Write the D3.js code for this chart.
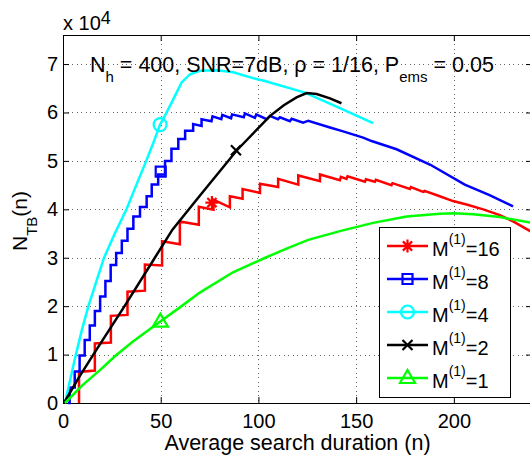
<!DOCTYPE html>
<html>
<head>
<meta charset="utf-8">
<script src="https://cdn.jsdelivr.net/npm/d3@7"></script>
<style>
  body { margin: 0; background: #fff; }
  svg text { font-family: "Liberation Sans", Arial, Helvetica, sans-serif; fill: #000; }
</style>
</head>
<body>
<div id="viz"></div>
<script>
// curve vertices: [search duration, N_TB / 1e4]
const m16 = [[8.2,0],[8.2,0.64],[16.3,0.67],[16.3,1.23],[24.5,1.25],[24.5,1.8],[33,1.82],[33,2.3],
  [41.9,2.32],[41.9,2.86],[50.7,2.84],[50.7,3.34],[59.8,3.28],[59.8,3.75],[69.5,3.68],[69.5,4.05],
  [77,3.99],[77,4.2],[85.4,4.04],[85.4,4.27],[91.9,4.22],[91.9,4.42],[100.8,4.34],[100.8,4.53],
  [110.1,4.46],[110.1,4.63],[120.4,4.51],[120.4,4.7],[131.5,4.58],[131.5,4.72],[141.7,4.6],[142.2,4.67],
  [145.1,4.63],[145.6,4.68],[154.5,4.57],[155,4.62],[159.6,4.57],[160.1,4.61],[168.1,4.5],[168.6,4.54],
  [177.5,4.42],[178,4.46],[184.3,4.36],[185,4.38],[192.8,4.27],[199.6,4.17],[206.5,4.1],[215,4.0],
  [223.5,3.88],[230.3,3.75],[240,3.53]];

const m8 = [[2.5,0],[3.4,0],[3.4,0.32],[6,0.32],[6,0.65],[8.5,0.65],[8.5,0.98],[11.1,0.98],[11.1,1.3],
  [13.7,1.3],[13.7,1.6],[16.3,1.6],[16.3,1.9],[19,1.9],[19,2.2],[21.7,2.2],[21.7,2.52],[24.4,2.52],
  [24.4,2.85],[27.2,2.85],[27.2,3.1],[30.1,3.1],[30.1,3.35],[33,3.35],[33,3.6],[36,3.6],[36,3.85],
  [39.4,3.85],[39.4,4.05],[42.8,4.05],[42.8,4.27],[45.4,4.27],[45.4,4.51],[48.7,4.51],[48.7,4.72],
  [52.2,4.72],[52.2,5.0],[55.5,5.0],[55.5,5.25],[59,5.25],[59,5.45],[62.5,5.45],[62.5,5.62],[66.6,5.62],
  [66.6,5.76],[70.9,5.72],[70.9,5.86],[76,5.82],[76.5,5.92],[81,5.86],[81.5,5.95],[86,5.88],[86.5,5.96],
  [92.5,5.9],[93.1,5.98],[98.2,5.89],[98.9,5.96],[104.2,5.86],[105.9,5.93],[110,5.86],[111,5.9],
  [116.1,5.82],[117,5.87],[122.9,5.79],[125.5,5.83],[136.6,5.69],[142.5,5.62],[153.6,5.48],[157.9,5.41],
  [170.7,5.24],[188,4.92],[205.6,4.51],[218,4.3],[230.3,4.06]];

const m4 = [[1,0],[3.5,0.45],[6.6,1],[9.6,1.5],[13,2],[17,2.5],[21,3],[26.5,3.5],[32.5,4],[37.5,4.5],
  [42.6,5],[46.5,5.4],[49.7,5.75],[53,6],[56.4,6.27],[60.7,6.62],[65,6.79],[70,6.86],[78.6,6.87],
  [87.1,6.83],[99,6.69],[103.3,6.65],[123.8,6.41],[140,6.12],[158.7,5.78]];

const m2 = [[0.5,0],[8,0.52],[16,1.03],[31.5,2],[47,3],[56,3.58],[70,4.28],[89,5.22],[106,5.93],
  [113,6.15],[119.5,6.31],[124.7,6.4],[129.8,6.38],[136.6,6.29],[142.5,6.19]];

const m1 = [[1,0],[10,0.37],[18.9,0.68],[27,0.98],[35.8,1.27],[49.6,1.68],[60,1.98],[70,2.28],[87,2.7],
  [103.5,3.0],[115,3.2],[125.5,3.37],[141.7,3.55],[158.7,3.72],[175.8,3.85],[192.8,3.91],[200,3.92],
  [209.9,3.9],[223.5,3.84],[240,3.72]];

const seriesData = [m16, m8, m4, m2, m1];
const seriesLabels = ["16", "8", "4", "2", "1"];
// the single marker drawn on each curve
const markerPoints = [[76.2,4.14],[50,4.78],[49.7,5.75],[88.5,5.22],[49.8,1.68]];

const xTicks = [0, 50, 100, 150, 200];
const yTicks = [0, 1, 2, 3, 4, 5, 6, 7];

const colors = ["#ff0000", "#0000ff", "#00ffff", "#000000", "#00ff00"];
const markerTypes = ["star", "square", "circle", "cross", "triangle"];

const width = 530, height = 460;
const plotLeft = 63, plotRight = 532, plotTop = 35, plotBottom = 403;

const svg = d3.select("#viz").append("svg")
  .attr("width", width).attr("height", height);

const x = d3.scaleLinear().domain([0, 240]).range([plotLeft, plotRight]);
const y = d3.scaleLinear().domain([0, 7.6]).range([plotBottom, plotTop]);

// dotted grid
svg.append("g").selectAll("line").data(xTicks.slice(1)).join("line")
  .attr("x1", d => Math.round(x(d)) + 0.5).attr("x2", d => Math.round(x(d)) + 0.5)
  .attr("y1", plotTop).attr("y2", plotBottom)
  .attr("stroke", "#666").attr("stroke-dasharray", "1,3.5").attr("shape-rendering", "crispEdges");
svg.append("g").selectAll("line").data(yTicks.slice(1)).join("line")
  .attr("x1", plotLeft).attr("x2", plotRight)
  .attr("y1", d => Math.round(y(d)) + 0.5).attr("y2", d => Math.round(y(d)) + 0.5)
  .attr("stroke", "#666").attr("stroke-dasharray", "1,3.5").attr("shape-rendering", "crispEdges");

// axes (ticks pointing inward)
svg.append("g").attr("transform", `translate(0,${plotBottom})`)
  .call(d3.axisBottom(x).tickValues(xTicks).tickSize(-6).tickPadding(11));
svg.append("g").attr("transform", `translate(${plotLeft},0)`)
  .call(d3.axisLeft(y).tickValues(yTicks).tickSize(-6).tickPadding(5).tickFormat(d3.format("d")));
svg.append("g").attr("transform", `translate(0,${plotTop})`)
  .call(d3.axisTop(x).tickValues(xTicks).tickSize(-6).tickFormat(""));
svg.append("g").attr("transform", `translate(${plotRight},0)`)
  .call(d3.axisRight(y).tickValues(yTicks).tickSize(-6).tickFormat(""));
svg.selectAll(".domain").remove();
svg.selectAll(".tick line").attr("stroke", "#000");
svg.selectAll(".tick text").style("font-size", "20px");

svg.append("rect")
  .attr("x", plotLeft + 0.5).attr("y", plotTop + 0.5)
  .attr("width", plotRight - plotLeft).attr("height", plotBottom - plotTop)
  .attr("fill", "none").attr("stroke", "#000");

// curves
const line = d3.line().x(d => x(d[0])).y(d => y(d[1]));
svg.append("g").selectAll("path").data(seriesData).join("path")
  .attr("d", line)
  .attr("fill", "none")
  .attr("stroke", (d, i) => colors[i])
  .attr("stroke-width", 2.5);

function markerPath(type, cx, cy) {
  const p = d3.path();
  if (type === "star") {
    const r = 6.5, q = 4.6;
    p.moveTo(cx - r, cy); p.lineTo(cx + r, cy);
    p.moveTo(cx, cy - r); p.lineTo(cx, cy + r);
    p.moveTo(cx - q, cy - q); p.lineTo(cx + q, cy + q);
    p.moveTo(cx - q, cy + q); p.lineTo(cx + q, cy - q);
  } else if (type === "square") {
    p.rect(cx - 5, cy - 5, 10, 10);
  } else if (type === "circle") {
    p.moveTo(cx + 6.5, cy); p.arc(cx, cy, 6.5, 0, 2 * Math.PI);
  } else if (type === "cross") {
    const r = 5;
    p.moveTo(cx - r, cy - r); p.lineTo(cx + r, cy + r);
    p.moveTo(cx - r, cy + r); p.lineTo(cx + r, cy - r);
  } else {
    p.moveTo(cx, cy - 8); p.lineTo(cx + 7.5, cy + 5); p.lineTo(cx - 7.5, cy + 5); p.closePath();
  }
  return p.toString();
}

svg.append("g").selectAll("path").data(markerPoints).join("path")
  .attr("d", (d, i) => markerPath(markerTypes[i], x(d[0]), y(d[1])))
  .attr("fill", "none")
  .attr("stroke", (d, i) => colors[i])
  .attr("stroke-width", 2.2);

// exponent label
const expo = svg.append("text").attr("x", plotLeft).attr("y", 30).style("font-size", "20px");
expo.append("tspan").text("x 10");
expo.append("tspan").attr("dy", -6).style("font-size", "18px").text("4");

// annotation
const note = svg.append("text").attr("x", 90).attr("y", 72).style("font-size", "21.5px");
note.append("tspan").text("N");
note.append("tspan").attr("dy", 10).style("font-size", "15px").text("h");
note.append("tspan").attr("dy", -10).text(" = 400, SNR=7dB, \u03c1 = 1/16, P");
note.append("tspan").attr("dy", 10).style("font-size", "15px").text("ems");
note.append("tspan").attr("dy", -10).text(" = 0.05");

// axis labels
svg.append("text")
  .attr("x", (plotLeft + plotRight) / 2).attr("y", 450)
  .attr("text-anchor", "middle").style("font-size", "21.5px")
  .text("Average search duration (n)");

const yLab = svg.append("text")
  .attr("transform", "translate(27,221) rotate(-90)")
  .attr("text-anchor", "middle").style("font-size", "21px");
yLab.append("tspan").text("N");
yLab.append("tspan").attr("dy", 10).style("font-size", "15px").text("TB");
yLab.append("tspan").attr("dy", -10).text("(n)");

// legend
const legend = svg.append("g");
legend.append("rect")
  .attr("x", 379.5).attr("y", 227.5).attr("width", 131).attr("height", 170)
  .attr("fill", "#fff").attr("stroke", "#000");

const rowY = i => 246 + i * 33;
seriesLabels.forEach((label, i) => {
  const ly = rowY(i);
  legend.append("line")
    .attr("x1", 387).attr("x2", 428).attr("y1", ly).attr("y2", ly)
    .attr("stroke", colors[i]).attr("stroke-width", 2.5);
  legend.append("path")
    .attr("d", markerPath(markerTypes[i], 407.5, ly))
    .attr("fill", "none").attr("stroke", colors[i]).attr("stroke-width", 2.2);
  const t = legend.append("text").attr("x", 432).attr("y", ly + 10).style("font-size", "20px");
  t.append("tspan").text("M");
  t.append("tspan").attr("dy", -12).style("font-size", "14px").text("(1)");
  t.append("tspan").attr("dy", 12).text("=" + label);
});
</script>
</body>
</html>
